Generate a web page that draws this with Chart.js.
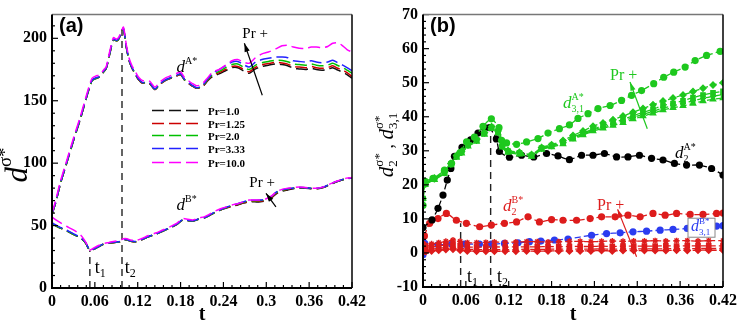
<!DOCTYPE html>
<html>
<head>
<meta charset="utf-8">
<script src="https://cdn.jsdelivr.net/npm/chart.js@4.4.1/dist/chart.umd.min.js"></script>
<style>
  html, body { margin: 0; padding: 0; background: #fff; }
  #wrap { position: relative; width: 747px; height: 328px; overflow: hidden; }
  #chartA { position: absolute; left: 0; top: 0; }
  #chartB { position: absolute; left: 370px; top: 0; }
</style>
</head>
<body>
<div id="wrap">
  <canvas id="chartA" width="370" height="328"></canvas>
  <canvas id="chartB" width="377" height="328"></canvas>
</div>
<script>
// ---------- panel (a) data ----------
const prLabels = ['1.0', '1.25', '2.0', '3.33', '10.0'];

const tA = [0, 0.005, 0.012, 0.02, 0.03, 0.04, 0.048, 0.056, 0.062, 0.067, 0.072, 0.076, 0.081, 0.086, 0.09, 0.093, 0.097, 0.1, 0.104, 0.108,
  0.112, 0.116, 0.121, 0.127, 0.132, 0.137, 0.144, 0.151, 0.158, 0.164, 0.17, 0.175, 0.18, 0.185, 0.19, 0.196, 0.202, 0.207, 0.212, 0.218,
  0.225, 0.234, 0.243, 0.252, 0.26, 0.268, 0.276, 0.285, 0.294, 0.303, 0.313, 0.322, 0.33, 0.338, 0.346, 0.355, 0.363, 0.37, 0.378, 0.386,
  0.393, 0.4, 0.407, 0.413, 0.42];
const dA_pr1 = [59, 68, 84, 99, 118, 136, 152, 166, 168, 169, 173, 176, 188, 199, 198, 199, 204, 207.5, 193, 182,
  176, 172, 167, 164, 164.5, 163.5, 159, 163, 166, 167.5, 169, 170, 171, 167, 164.5, 162, 160, 160.5, 162, 166,
  169.5, 171.5, 174, 176.5, 176.5, 174, 172, 175.5, 177.5, 178.5, 179.5, 179, 178, 176, 175.5, 175, 176, 175, 174.5, 175,
  176.5, 174.5, 173, 171, 168];
const dA_pr125 = [59, 68, 84, 99, 118, 136, 152, 166, 168, 169, 173, 176, 188, 199, 198, 199, 204, 207.5, 193, 182,
  176, 172, 167, 164, 164.5, 163.5, 159, 163, 166, 167.5, 169, 170, 171, 167, 164.5, 162, 160, 160.5, 162, 166.5,
  170.5, 172.5, 175, 177.5, 177.5, 175.2, 173.2, 176.8, 178.8, 179.8, 180.8, 180.3, 179.3, 177.3, 177, 176.5, 177.4, 176.5, 176, 176.5,
  178, 176, 174.5, 172.5, 169.5];
const dA_pr2 = [59, 68, 84, 99, 118, 136, 152, 166, 168, 169.2, 173, 176, 188, 199, 198, 199, 204, 207.5, 193, 182.3,
  176.3, 172.3, 167.3, 164.3, 164.8, 163.8, 159.3, 163.3, 166.3, 167.8, 169.3, 170.3, 171.3, 167.3, 164.8, 162.3, 160.3, 160.8, 162.5, 167,
  171, 173.5, 176.5, 179, 179.5, 177, 175, 178.5, 180.5, 181.5, 182.5, 182.3, 181.3, 179.5, 179, 178.5, 179.5, 178.5, 178, 178.5,
  180, 178.2, 176.5, 174.5, 172];
const dA_pr333 = [59.5, 68.5, 84.5, 99.5, 118.5, 136.5, 152.5, 166.5, 168.5, 169.5, 173.5, 176.5, 188.5, 199.5, 198.5, 199.5, 204.5, 208, 193.5, 182.5,
  176.5, 172.5, 167.5, 164.5, 165, 164, 159.5, 163.5, 166.5, 168, 169.5, 170.5, 171.5, 167.5, 165, 162.5, 160.5, 161, 163, 167.5,
  172, 175, 178, 181, 181.5, 179, 177, 181, 183, 184, 185, 185, 184.5, 182, 181.5, 181, 182, 181, 180.5, 181,
  182.5, 180.5, 178.5, 176.5, 174];
const dA_pr10 = [60, 70, 86, 101, 120, 138, 154, 168, 170, 170.5, 174.5, 177.5, 190, 200.5, 199.5, 200.5, 205.5, 209, 195, 184,
  178, 174, 169, 166, 166.5, 165.5, 161, 165, 168, 169.5, 171, 172, 173, 169, 166.5, 164, 162, 162.5, 164.5, 168.5,
  173, 175, 178.5, 182, 183, 181, 180, 184.5, 187.5, 189, 191.5, 194, 194.5, 193, 192, 192, 193, 193, 192.5, 193.5,
  196, 196.5, 194, 191, 189];

const tB = [0, 0.002, 0.01, 0.02, 0.03, 0.04, 0.047, 0.053, 0.058, 0.065, 0.072, 0.08, 0.088, 0.095, 0.1, 0.105, 0.11, 0.117, 0.125, 0.135,
  0.145, 0.155, 0.165, 0.175, 0.183, 0.19, 0.197, 0.205, 0.213, 0.22, 0.228, 0.236, 0.244, 0.252, 0.26, 0.268, 0.276, 0.284, 0.292, 0.3,
  0.307, 0.314, 0.322, 0.33, 0.338, 0.346, 0.355, 0.364, 0.372, 0.38, 0.388, 0.396, 0.404, 0.412, 0.42];
const dB_pr1 = [52, 51, 48.5, 46, 43, 40, 36, 30, 31, 33, 35, 36, 36.5, 37, 38.5, 38.5, 37.5, 37, 38.5, 41,
  43, 45.5, 48, 51, 54.5, 54, 53.5, 55, 56, 58, 60.5, 62.5, 64, 65.5, 66.5, 68, 69, 69, 69, 70,
  72, 75.5, 77.5, 78.5, 79.5, 80, 80, 79.5, 79.5, 80.5, 82.5, 84.5, 86, 87.5, 88];
const dB_pr125 = [52, 51, 48.5, 46, 43, 40, 36, 30, 31, 33, 35, 36, 36.5, 37, 38.5, 38.5, 37.5, 37, 38.5, 41,
  43, 45.5, 48, 51, 54.5, 54, 53.5, 55, 56, 58, 60.5, 62.5, 64.2, 65.7, 66.8, 68.3, 69.3, 69.4, 69.5, 70.5,
  72.5, 76, 78, 79, 79.8, 80.2, 80.2, 79.7, 79.7, 80.7, 82.7, 84.7, 86.2, 87.6, 88];
const dB_pr2 = [52, 51, 48.5, 46, 43, 40, 36, 30, 31, 33, 35, 36, 36.6, 37.1, 38.6, 38.6, 37.6, 37.1, 38.6, 41.1,
  43.1, 45.6, 48.1, 51.1, 54.6, 54.1, 53.6, 55.1, 56.1, 58.1, 60.6, 62.6, 64.5, 66, 67.2, 68.7, 69.8, 69.9, 70, 71,
  73, 76.5, 78.4, 79.3, 80, 80.4, 80.3, 79.8, 79.8, 80.8, 82.8, 84.8, 86.3, 87.7, 88.1];
const dB_pr333 = [52.5, 51.5, 49, 46.5, 43.5, 40.5, 36.5, 30.2, 31.2, 33.2, 35.2, 36.2, 36.8, 37.3, 38.8, 38.8, 37.8, 37.3, 38.8, 41.3,
  43.3, 45.8, 48.3, 51.3, 54.8, 54.3, 53.8, 55.3, 56.3, 58.3, 60.8, 62.8, 64.7, 66.3, 67.5, 69, 70.2, 70.3, 70.4, 71.3,
  73.3, 76.8, 78.6, 79.5, 80.1, 80.5, 80.4, 79.9, 79.9, 80.9, 82.9, 84.9, 86.4, 87.8, 88.2];
const dB_pr10 = [57, 56, 53, 49.5, 46.5, 42.5, 37, 30.5, 32, 34, 35.5, 36.5, 37.5, 38, 39.5, 39.5, 38.5, 38, 39.5, 42,
  44, 46.5, 49, 52, 55.5, 55, 54.5, 56, 57, 59, 61.5, 63.5, 65, 66.5, 67.5, 69, 70.5, 70.5, 70.5, 71.5,
  73.5, 77, 79, 80, 80.5, 81, 80.5, 80, 80, 81, 83, 85, 86.5, 88, 88.5];

const tMarkA = [0.053, 0.098];     // t1, t2
const tMarkTopA = [30, 208];

// ---------- panel (b) data ----------
const tD2A = [0, 0.0126, 0.021, 0.028, 0.034, 0.039, 0.044, 0.0546, 0.0667, 0.077, 0.086, 0.093, 0.1027, 0.107, 0.121, 0.138, 0.155, 0.173, 0.189, 0.205,
  0.222, 0.238, 0.254, 0.271, 0.287, 0.303, 0.32, 0.336, 0.352, 0.369, 0.387, 0.404, 0.42];
const d2A = [7.5, 9.7, 13.1, 17, 21.4, 24.8, 28.4, 31, 33.2, 35.2, 36.8, 36.8, 33.5, 29.8, 28.1, 28.7, 28.2, 29.2, 28.5, 27.4,
  28.7, 28.7, 29.2, 28.2, 28.2, 28.7, 27.8, 27.3, 26.3, 25.8, 25.8, 24.8, 22.9];

const tD31A_pr10 = [0, 0.003, 0.014, 0.03, 0.04, 0.052, 0.061, 0.072, 0.084, 0.0957, 0.1064, 0.11, 0.117, 0.131, 0.145, 0.161, 0.175, 0.191, 0.205, 0.217,
  0.231, 0.245, 0.262, 0.278, 0.292, 0.306, 0.323, 0.337, 0.351, 0.367, 0.381, 0.397, 0.416];
const d31A_pr10 = [14, 21, 21.9, 24.3, 26.3, 29.5, 32.6, 34, 37.2, 39.4, 36.8, 33.1, 32.3, 31.9, 32.6, 33.6, 35.2, 36.5, 37.6, 39.5,
  40.9, 42.4, 43.3, 44.8, 46.3, 47.7, 49.7, 51.6, 53.1, 54.6, 56.5, 58, 59.2];

const tD31A = [0, 0.003, 0.016, 0.03, 0.039, 0.047, 0.054, 0.063, 0.075, 0.086, 0.096, 0.105, 0.111, 0.119, 0.135, 0.152, 0.166, 0.18, 0.196, 0.21,
  0.224, 0.238, 0.252, 0.266, 0.28, 0.294, 0.308, 0.322, 0.336, 0.35, 0.364, 0.378, 0.392, 0.406, 0.42];
const d31A_pr1 = [16, 20, 21.5, 23.3, 25.8, 28, 29.3, 31.3, 32.7, 34.8, 36.5, 35.2, 31, 29.5, 29, 28.3, 30.4, 31.1, 32, 33.4,
  34.6, 35.8, 36.6, 37.4, 38.2, 39.3, 40.2, 41, 42, 42.6, 43.2, 43.9, 44.6, 45.1, 45.5];
const d31A_pr125 = [16, 20, 21.6, 23.4, 25.9, 28.2, 29.5, 31.5, 32.9, 35, 36.7, 35.4, 31.2, 29.7, 29.2, 28.5, 30.6, 31.3, 32.3, 33.7,
  34.9, 36.1, 37, 37.8, 38.7, 39.8, 40.7, 41.6, 42.6, 43.2, 43.9, 44.7, 45.4, 46, 46.5];
const d31A_pr2 = [16, 20.2, 21.8, 23.6, 26.1, 28.4, 29.7, 31.7, 33.1, 35.2, 36.9, 35.6, 31.4, 29.9, 29.4, 28.7, 30.8, 31.5, 32.6, 34,
  35.2, 36.4, 37.4, 38.2, 39.2, 40.3, 41.3, 42.2, 43.3, 43.9, 44.7, 45.6, 46.4, 47, 47.5];
const d31A_pr333 = [16, 20.3, 22, 23.8, 26.3, 28.6, 29.9, 31.9, 33.3, 35.4, 37.1, 35.8, 31.6, 30.1, 29.6, 28.9, 31, 31.8, 33, 34.5,
  35.8, 37.2, 38.2, 39.1, 40.2, 41.3, 42.4, 43.5, 44.6, 45.5, 46.4, 47.4, 48.4, 49.3, 50];

const tD2B_pr10 = [0, 0.002, 0.0093, 0.021, 0.0327, 0.0467, 0.0607, 0.0793, 0.0957, 0.114, 0.131, 0.147, 0.163, 0.18, 0.196, 0.215, 0.234, 0.25, 0.269, 0.287,
  0.304, 0.322, 0.339, 0.355, 0.374, 0.392, 0.411, 0.42];
const d2B_pr10 = [2.5, 5, 8.7, 10.1, 11.6, 9.6, 8.7, 7.7, 8.2, 8.7, 9.1, 10.6, 9.1, 9.8, 9.6, 9.6, 10.1, 10.6, 10.6, 11.1,
  10.6, 11.6, 11.1, 11.6, 11.3, 11.3, 11.6, 11.7];

const tD2B = [0, 0.004, 0.012, 0.022, 0.032, 0.042, 0.052, 0.062, 0.075, 0.088, 0.1, 0.115, 0.13, 0.145, 0.16, 0.175, 0.19, 0.205, 0.22, 0.235,
  0.25, 0.265, 0.28, 0.295, 0.31, 0.325, 0.34, 0.355, 0.37, 0.385, 0.4, 0.42];
const d2B_pr333 = [1.5, 2.2, 2.7, 3.0, 3.4, 3.8, 3.4, 3.0, 3.0, 3.1, 3.2, 3.1, 3.2, 3.3, 3.3, 3.2, 3.3, 3.4, 3.4, 3.3,
  3.4, 3.5, 3.4, 3.5, 3.5, 3.6, 3.5, 3.6, 3.6, 3.5, 3.6, 3.6];
const d2B_pr2 = [0.8, 1.3, 1.8, 2.1, 2.4, 2.6, 2.2, 1.8, 1.7, 1.7, 1.8, 1.7, 1.8, 1.8, 1.8, 1.9, 1.8, 1.9, 1.9, 1.9,
  2.0, 1.9, 2.0, 2.0, 2.0, 2.0, 2.1, 2.0, 2.1, 2.1, 2.1, 2.1];
const d2B_pr125 = [0.4, 0.8, 1.1, 1.4, 1.6, 1.8, 1.4, 1.1, 1.0, 1.0, 1.0, 1.0, 1.0, 1.1, 1.0, 1.1, 1.1, 1.1, 1.1, 1.1,
  1.2, 1.1, 1.2, 1.2, 1.2, 1.2, 1.2, 1.3, 1.2, 1.3, 1.3, 1.3];
const d2B_pr1 = [0.2, 0.4, 0.6, 0.8, 1.0, 1.1, 0.8, 0.6, 0.5, 0.5, 0.5, 0.5, 0.5, 0.6, 0.5, 0.6, 0.6, 0.6, 0.6, 0.6,
  0.7, 0.6, 0.7, 0.7, 0.7, 0.7, 0.7, 0.8, 0.7, 0.8, 0.8, 0.8];

const tD31B = [0, 0.0023, 0.021, 0.04, 0.058, 0.079, 0.0957, 0.114, 0.133, 0.149, 0.165, 0.184, 0.203, 0.236, 0.257, 0.276, 0.294, 0.313, 0.332, 0.35,
  0.37, 0.39, 0.411, 0.42];
const d31B = [-0.5, 2.8, 2.4, 2.6, 2.6, 2.6, 2.6, 2.8, 3.0, 3.3, 3.5, 3.8, 4.1, 5.2, 5.7, 5.9, 6.2, 6.4, 6.7, 6.9,
  7.2, 7.6, 7.9, 8.0];

const tMarkB = [0.0527, 0.0947];
const tMarkTopB = [8.7, 36.8];

// ---------- helpers ----------
const serif = '"Liberation Serif", "Times New Roman", serif';
const tickFont = { family: serif, size: 16, weight: 'bold' };

function pts(ts, vs) {
  return ts.map((t, i) => ({ x: t, y: vs[i] }));
}

function curve(ts, vs, color, extra) {
  return Object.assign({
    data: pts(ts, vs), borderColor: color, backgroundColor: color,
    borderWidth: 1.5, pointRadius: 0, tension: 0.25, fill: false
  }, extra || {});
}

function marker(t, lo, hi) {
  return {
    data: [{ x: t, y: lo }, { x: t, y: hi }], borderColor: '#222', borderWidth: 1.4,
    borderDash: [7, 5], pointRadius: 0, tension: 0, order: 20
  };
}

function rich(ctx, x, y, parts, measureOnly) {
  let cx = x, hold = null;
  for (const p of parts) {
    ctx.font = p.f;
    const w = ctx.measureText(p.t).width;
    if (!measureOnly) ctx.fillText(p.t, cx, y + (p.dy || 0));
    if (p.hold) { hold = { x: cx, w: w }; continue; }
    if (hold) { cx = hold.x + Math.max(hold.w, w); hold = null; } else cx += w;
  }
  return cx - x;
}

function vTitle(ctx, cx, cy, parts) {
  ctx.save();
  ctx.translate(cx, cy);
  ctx.rotate(-Math.PI / 2);
  const w = rich(ctx, 0, 0, parts, true);
  rich(ctx, -w / 2, 0, parts);
  ctx.restore();
}

function arrow(ctx, x1, y1, x2, y2, color) {
  ctx.strokeStyle = color; ctx.fillStyle = color; ctx.lineWidth = 1.2; ctx.setLineDash([]);
  ctx.beginPath(); ctx.moveTo(x1, y1); ctx.lineTo(x2, y2); ctx.stroke();
  const ang = Math.atan2(y2 - y1, x2 - x1), h = 9;
  ctx.beginPath();
  ctx.moveTo(x2, y2);
  ctx.lineTo(x2 - h * Math.cos(ang - 0.3), y2 - h * Math.sin(ang - 0.3));
  ctx.lineTo(x2 - h * Math.cos(ang + 0.3), y2 - h * Math.sin(ang + 0.3));
  ctx.closePath(); ctx.fill();
}

// frame + inward ticks (major and minor)
const framePlugin = {
  id: 'frame',
  afterDraw(chart, args, o) {
    const { ctx, chartArea: a } = chart;
    const xs = chart.scales.x, ys = chart.scales.y;
    ctx.save();
    ctx.setLineDash([]);
    ctx.strokeStyle = '#000'; ctx.lineWidth = 1.2;
    for (let i = 0; ; i++) {
      const v = xs.min + i * o.xMinor;
      if (v > xs.max + 1e-9) break;
      const p = xs.getPixelForValue(v);
      const len = i % o.xEvery === 0 ? 6 : 3;
      ctx.beginPath(); ctx.moveTo(p, a.bottom); ctx.lineTo(p, a.bottom - len); ctx.stroke();
    }
    for (let i = 0; ; i++) {
      const v = ys.min + i * o.yMinor;
      if (v > ys.max + 1e-9) break;
      const p = ys.getPixelForValue(v);
      const len = i % o.yEvery === 0 ? 6 : 3;
      ctx.beginPath(); ctx.moveTo(a.left, p); ctx.lineTo(a.left + len, p); ctx.stroke();
    }
    ctx.lineWidth = 1.5; ctx.strokeStyle = '#777';
    ctx.beginPath(); ctx.moveTo(a.left, a.top); ctx.lineTo(a.right, a.top); ctx.stroke();
    ctx.strokeStyle = '#000';
    ctx.beginPath(); ctx.moveTo(a.right, a.top); ctx.lineTo(a.right, a.bottom); ctx.stroke();
    ctx.lineWidth = 2;
    ctx.beginPath(); ctx.moveTo(a.left, a.top); ctx.lineTo(a.left, a.bottom); ctx.lineTo(a.right, a.bottom); ctx.stroke();
    ctx.restore();
  }
};

function scalesFor(ymin, ymax, ystep, yWidth, xHeight) {
  return {
    x: {
      type: 'linear', min: 0, max: 0.42,
      grid: { display: false, drawTicks: false }, border: { display: false },
      ticks: {
        stepSize: 0.06, font: tickFont, color: '#000', padding: 4, maxRotation: 0, autoSkip: false,
        callback: v => String(Math.round(v * 100) / 100)
      },
      afterFit: s => { s.height = xHeight; }
    },
    y: {
      type: 'linear', min: ymin, max: ymax,
      grid: { display: false, drawTicks: false }, border: { display: false },
      ticks: {
        stepSize: ystep, font: tickFont, color: '#000', padding: 5, autoSkip: false,
        callback: v => (Math.abs(v / ystep - Math.round(v / ystep)) < 1e-6 ? String(Math.round(v)) : '')
      },
      afterFit: s => { s.width = yWidth; }
    }
  };
}

// ---------- panel (a) ----------
const colorsA = ['#111111', '#cc0000', '#00c000', '#2222ff', '#ff00ff'];
const seriesA = [dA_pr1, dA_pr125, dA_pr2, dA_pr333, dA_pr10];
const seriesAB = [dB_pr1, dB_pr125, dB_pr2, dB_pr333, dB_pr10];
const dashA = [12, 5];

const datasetsA = [];
seriesA.forEach((s, i) => datasetsA.push(curve(tA, s, colorsA[i], { borderDash: dashA, order: 10 - i })));
seriesAB.forEach((s, i) => datasetsA.push(curve(tB, s, colorsA[i], { borderDash: dashA, order: 10 - i })));
tMarkA.forEach((t, i) => datasetsA.push(marker(t, 0, tMarkTopA[i])));

const notesA = {
  id: 'notesA',
  afterDraw(chart) {
    const { ctx, chartArea: a } = chart;
    const P = (x, y) => [chart.scales.x.getPixelForValue(x), chart.scales.y.getPixelForValue(y)];
    ctx.save();
    ctx.textBaseline = 'alphabetic'; ctx.textAlign = 'left'; ctx.fillStyle = '#000';
    ctx.font = 'bold 20px "Liberation Sans", Arial, sans-serif';
    ctx.fillText('(a)', a.left + 7, a.top + 17);

    const it = s => 'italic ' + s + 'px ' + serif, rm = s => s + 'px ' + serif;
    let p = P(0.1744, 172.8);
    rich(ctx, p[0], p[1], [{ t: 'd', f: it(17) }, { t: 'A*', f: rm(10), dy: -8 }]);
    p = P(0.1744, 62.4);
    rich(ctx, p[0], p[1], [{ t: 'd', f: it(17) }, { t: 'B*', f: rm(10), dy: -8 }]);

    ctx.font = rm(15);
    p = P(0.2665, 200); ctx.fillText('Pr +', p[0], p[1]);
    p = P(0.2763, 80.8); ctx.fillText('Pr +', p[0], p[1]);
    let q = P(0.2944, 154.4), r = P(0.2693, 196);
    arrow(ctx, q[0], q[1], r[0], r[1], '#000');
    q = P(0.3135, 65); r = P(0.2996, 75.8);
    arrow(ctx, q[0], q[1], r[0], r[1], '#000');

    ctx.fillStyle = '#000';
    p = P(0.06, 12);
    rich(ctx, p[0], p[1], [{ t: 't', f: rm(18) }, { t: '1', f: rm(12), dy: 4 }]);
    p = P(0.1019, 12);
    rich(ctx, p[0], p[1], [{ t: 't', f: rm(18) }, { t: '2', f: rm(12), dy: 4 }]);

    // legend
    const rows = [96, 109, 121, 134, 148];
    rows.forEach((dy, i) => {
      const y = a.top + dy;
      ctx.strokeStyle = colorsA[i]; ctx.lineWidth = 1.5; ctx.setLineDash(dashA);
      ctx.beginPath(); ctx.moveTo(a.left + 100, y); ctx.lineTo(a.left + 148, y); ctx.stroke();
      ctx.setLineDash([]);
      ctx.fillStyle = '#000'; ctx.font = 'bold 11px ' + serif;
      ctx.fillText('Pr=' + prLabels[i], a.left + 156, y + 4);
    });

    // axis titles
    ctx.fillStyle = '#000';
    ctx.font = 'bold 20px ' + serif;
    ctx.textAlign = 'center';
    ctx.fillText('t', (a.left + a.right) / 2, 320);
    ctx.textAlign = 'left';
    vTitle(ctx, 27, 165, [{ t: 'd', f: it(31) }, { t: 'σ*', f: rm(19), dy: -16 }]);
    ctx.restore();
  }
};

new Chart(document.getElementById('chartA'), {
  type: 'line',
  data: { datasets: datasetsA },
  options: {
    responsive: false, animation: false, events: [],
    layout: { padding: { top: 14, right: 17, left: 0, bottom: 0 } },
    plugins: {
      legend: { display: false }, tooltip: { enabled: false },
      frame: { xMinor: 0.012, xEvery: 5, yMinor: 10, yEvery: 5 }
    },
    scales: scalesFor(0, 219, 50, 52, 40)
  },
  plugins: [framePlugin, notesA]
});

// ---------- panel (b) ----------
const green = '#1ec81e', red = '#dd1c1c', blue = '#2b3cf0', black = '#000000';
const dashB = [6, 3];
const dot = (c, r) => ({ borderDash: dashB, borderWidth: 1.3, pointRadius: r || 3.6, pointStyle: 'circle',
  pointBackgroundColor: c, pointBorderWidth: 0, tension: 0.2 });
const small = (c, style) => ({ borderDash: dashB, borderWidth: 1.3, pointRadius: 3, pointStyle: style,
  pointBackgroundColor: c, pointBorderColor: c, pointBorderWidth: 1.4, tension: 0.2 });

const datasetsB = [
  curve(tD31B, d31B, blue, Object.assign(dot(blue), { order: 6 })),
  curve(tD2B, d2B_pr1, red, Object.assign(small(red, 'rectRot'), { order: 5 })),
  curve(tD2B, d2B_pr125, red, Object.assign(small(red, 'triangle'), { order: 5 })),
  curve(tD2B, d2B_pr2, red, Object.assign(small(red, 'rect'), { order: 5 })),
  curve(tD2B, d2B_pr333, red, Object.assign(small(red, 'star'), { order: 5 })),
  curve(tD2B_pr10, d2B_pr10, red, Object.assign(dot(red), { order: 4 })),
  curve(tD2A, d2A, black, Object.assign(dot(black), { order: 3 })),
  curve(tD31A, d31A_pr1, green, Object.assign(small(green, 'triangle'), { order: 2 })),
  curve(tD31A, d31A_pr125, green, Object.assign(small(green, 'star'), { order: 2 })),
  curve(tD31A, d31A_pr2, green, Object.assign(small(green, 'rect'), { order: 2 })),
  curve(tD31A, d31A_pr333, green, Object.assign(small(green, 'rectRot'), { order: 2 })),
  curve(tD31A_pr10, d31A_pr10, green, Object.assign(dot(green), { order: 1 }))
];
tMarkB.forEach((t, i) => datasetsB.push(marker(t, -10, tMarkTopB[i])));

const notesB = {
  id: 'notesB',
  afterDraw(chart) {
    const { ctx, chartArea: a } = chart;
    const P = (x, y) => [chart.scales.x.getPixelForValue(x), chart.scales.y.getPixelForValue(y)];
    const it = s => 'italic ' + s + 'px ' + serif, rm = s => s + 'px ' + serif;
    ctx.save();
    ctx.textBaseline = 'alphabetic'; ctx.textAlign = 'left'; ctx.fillStyle = '#000';
    ctx.font = 'bold 20px "Liberation Sans", Arial, sans-serif';
    ctx.fillText('(b)', a.left + 7, a.top + 17);

    // green
    ctx.fillStyle = green;
    let p = P(0.2618, 50.7);
    ctx.font = rm(16); ctx.fillText('Pr +', p[0], p[1]);
    let q = P(0.314, 36.5), r = P(0.2898, 50.2);
    arrow(ctx, q[0], q[1], r[0], r[1], green);
    ctx.fillStyle = green;
    p = P(0.196, 42.5);
    rich(ctx, p[0], p[1], [{ t: 'd', f: it(17) }, { t: 'A*', f: rm(10), dy: -8, hold: true }, { t: '3,1', f: rm(10), dy: 4 }]);

    // black
    ctx.fillStyle = '#000';
    p = P(0.3528, 27.8);
    rich(ctx, p[0], p[1], [{ t: 'd', f: it(17) }, { t: 'A*', f: rm(10), dy: -8, hold: true }, { t: '2', f: rm(10), dy: 4 }]);

    // red
    ctx.fillStyle = red;
    p = P(0.112, 12.3);
    rich(ctx, p[0], p[1], [{ t: 'd', f: it(17) }, { t: 'B*', f: rm(10), dy: -8, hold: true }, { t: '2', f: rm(10), dy: 4 }]);
    ctx.font = rm(16);
    p = P(0.2436, 12.6); ctx.fillText('Pr +', p[0], p[1]);
    q = P(0.299, -1.1); r = P(0.2725, 12.8);
    arrow(ctx, q[0], q[1], r[0], r[1], red);

    // blue boxed label
    const b = P(0.371, 10.2);
    ctx.fillStyle = '#fff'; ctx.strokeStyle = '#888'; ctx.lineWidth = 1;
    ctx.fillRect(b[0], b[1], 27, 19); ctx.strokeRect(b[0], b[1], 27, 19);
    ctx.fillStyle = blue;
    rich(ctx, b[0] + 3, b[1] + 13, [{ t: 'd', f: it(16) }, { t: 'B*', f: rm(9), dy: -7, hold: true }, { t: '3,1', f: rm(9), dy: 4 }]);

    // t1, t2
    ctx.fillStyle = '#000';
    p = P(0.0616, -8.5);
    rich(ctx, p[0], p[1], [{ t: 't', f: rm(18) }, { t: '1', f: rm(12), dy: 4 }]);
    p = P(0.1036, -8.5);
    rich(ctx, p[0], p[1], [{ t: 't', f: rm(18) }, { t: '2', f: rm(12), dy: 4 }]);

    // axis titles
    ctx.font = 'bold 20px ' + serif;
    ctx.textAlign = 'center';
    ctx.fillText('t', (a.left + a.right) / 2, 320);
    ctx.textAlign = 'left';
    vTitle(ctx, 23, 145, [
      { t: 'd', f: it(21) }, { t: 'σ*', f: rm(13), dy: -10, hold: true }, { t: '2', f: rm(13), dy: 4 },
      { t: ' , ', f: rm(18) },
      { t: 'd', f: it(21) }, { t: 'σ*', f: rm(13), dy: -10, hold: true }, { t: '3,1', f: rm(13), dy: 4 }
    ]);
    ctx.restore();
  }
};

new Chart(document.getElementById('chartB'), {
  type: 'line',
  data: { datasets: datasetsB },
  options: {
    responsive: false, animation: false, events: [],
    layout: { padding: { top: 14, right: 24, left: 0, bottom: 0 } },
    plugins: {
      legend: { display: false }, tooltip: { enabled: false },
      frame: { xMinor: 0.012, xEvery: 5, yMinor: 2, yEvery: 5 }
    },
    scales: scalesFor(-10, 70, 10, 53, 41)
  },
  plugins: [framePlugin, notesB]
});
</script>
</body>
</html>
